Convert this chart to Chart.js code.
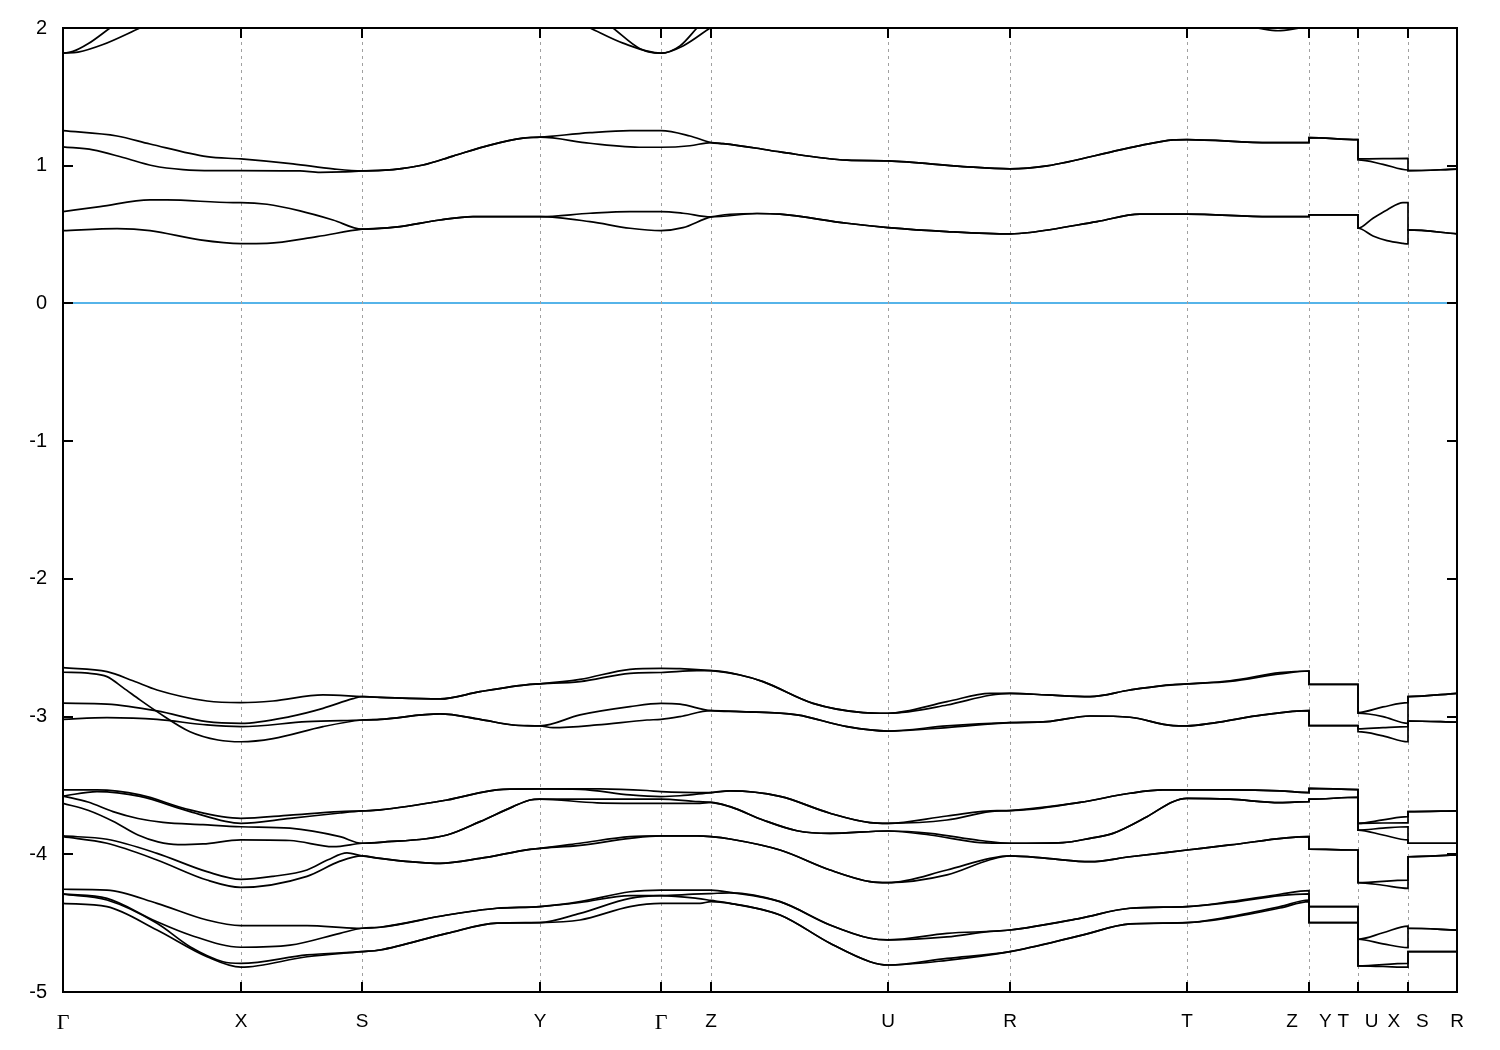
<!DOCTYPE html>
<html>
<head>
<meta charset="utf-8">
<title>Band structure</title>
<script src="https://cdn.jsdelivr.net/npm/chart.js@4.4.1/dist/chart.umd.min.js"></script>
<style>
  html, body { margin: 0; padding: 0; background: #fff; }
</style>
</head>
<body>
<canvas id="bands" width="1500" height="1050"></canvas>
<script>
'use strict';

// ── k-path (distance along the path) ─────────────────────────────
const K_TICKS  = [0, 178, 299, 477, 598, 648, 825, 947, 1124, 1246, 1295, 1345, 1394];
const K_LABELS = ['Γ', 'X', 'S', 'Y', 'Γ', 'Z', 'U', 'R', 'T', 'Z    Y', 'T   U', 'X   S', 'R'];

const E_MIN = -5;
const E_MAX = 2;

// ── bands: [k, E] pairs; a repeated k is a jump ──
// conduction bands running out of the top of the window
const CB_TOP1 = [[0, 1.817], [10, 1.83], [25, 1.885], [47, 2.0]];
const CB_TOP2 = [[0, 1.817], [15, 1.825], [40, 1.88], [77, 2.0]];
const CB_TOP3 = [[527, 2.0], [560, 1.89], [598, 1.817], [620, 1.87], [647, 2.0]];
const CB_TOP4 = [[550, 2.0], [577, 1.85], [598, 1.817], [617, 1.87], [634, 2.0]];
const CB_TOP5 = [[1194, 2.0], [1215, 1.98], [1237, 2.0]];

// conduction pair near 1 eV
const CB_1 = [[0, 1.255], [54, 1.216], [87, 1.158], [144, 1.066], [178, 1.049], [230, 1.013], [270, 0.977], [299, 0.962],
  [330, 0.972], [360, 1.005], [390, 1.07], [427, 1.15], [460, 1.2], [477, 1.207],
  [527, 1.24], [567, 1.255], [598, 1.255], [627, 1.216], [648, 1.168],
  [660, 1.16], [694, 1.127], [717, 1.1], [784, 1.04], [825, 1.035], [900, 0.994], [947, 0.977], [984, 0.999],
  [1057, 1.115], [1077, 1.146], [1110, 1.187], [1124, 1.19], [1207, 1.168], [1246, 1.168],
  [1246, 1.204], [1295, 1.19], [1295, 1.05], [1345, 1.054], [1345, 0.964], [1394, 0.975]];
const CB_2 = [[0, 1.137], [30, 1.115], [60, 1.06], [90, 1.0], [120, 0.972], [150, 0.965], [178, 0.965], [237, 0.962], [257, 0.952], [280, 0.955], [299, 0.962],
  [330, 0.972], [360, 1.005], [390, 1.07], [427, 1.15], [460, 1.2], [477, 1.207],
  [527, 1.163], [580, 1.134], [598, 1.134], [627, 1.145], [648, 1.168],
  [660, 1.16], [694, 1.127], [717, 1.1], [784, 1.04], [825, 1.035], [900, 0.994], [947, 0.977], [984, 0.999],
  [1057, 1.115], [1077, 1.146], [1110, 1.187], [1124, 1.19], [1207, 1.168], [1246, 1.168],
  [1246, 1.204], [1295, 1.19], [1295, 1.042], [1320, 1.01], [1345, 0.969], [1345, 0.964], [1394, 0.975]];

// conduction pair near 0.6 eV
const CB_3 = [[0, 0.667], [37, 0.703], [87, 0.752], [104, 0.752], [170, 0.732], [178, 0.732], [204, 0.72], [237, 0.672], [270, 0.606], [299, 0.539],
  [327, 0.55], [337, 0.558], [377, 0.606], [410, 0.63], [477, 0.63],
  [527, 0.655], [567, 0.667], [598, 0.667], [620, 0.655], [648, 0.628],
  [694, 0.653], [717, 0.648], [784, 0.582], [825, 0.551], [884, 0.522], [947, 0.505], [967, 0.515], [1034, 0.594], [1077, 0.648],
  [1124, 0.648], [1207, 0.63], [1246, 0.63],
  [1246, 0.643], [1295, 0.643], [1295, 0.546], [1310, 0.619], [1324, 0.679], [1340, 0.732], [1345, 0.732], [1345, 0.534], [1394, 0.505]];
const CB_4 = [[0, 0.529], [54, 0.543], [87, 0.529], [137, 0.461], [178, 0.434], [204, 0.436], [254, 0.485], [299, 0.539],
  [327, 0.55], [337, 0.558], [377, 0.606], [410, 0.63], [477, 0.63],
  [527, 0.594], [567, 0.546], [598, 0.529], [620, 0.55], [648, 0.628],
  [694, 0.653], [717, 0.648], [784, 0.582], [825, 0.551], [884, 0.522], [947, 0.505], [967, 0.515], [1034, 0.594], [1077, 0.648],
  [1124, 0.648], [1207, 0.63], [1246, 0.63],
  [1246, 0.643], [1295, 0.643], [1295, 0.546], [1310, 0.49], [1324, 0.456], [1340, 0.436], [1345, 0.432], [1345, 0.534], [1394, 0.505]];

// valence group near -2.9 eV
const VB_1 = [[0, -2.645], [44, -2.674], [70, -2.74], [94, -2.807], [144, -2.887], [178, -2.899], [210, -2.887], [260, -2.843], [299, -2.855],
  [317, -2.86], [377, -2.872], [417, -2.819], [467, -2.766], [477, -2.762],
  [517, -2.73], [567, -2.657], [598, -2.65], [617, -2.652], [648, -2.667],
  [677, -2.698], [700, -2.746], [750, -2.904], [800, -2.971], [825, -2.976], [884, -2.892], [927, -2.831], [947, -2.831],
  [984, -2.843], [1027, -2.855], [1067, -2.807], [1100, -2.775], [1124, -2.763], [1167, -2.74], [1217, -2.681], [1246, -2.669],
  [1246, -2.766], [1295, -2.766], [1295, -2.971], [1320, -2.93], [1345, -2.899], [1345, -2.855], [1394, -2.831]];
const VB_2 = [[0, -2.678], [25, -2.685], [44, -2.71], [60, -2.79], [77, -2.879], [94, -2.964], [127, -3.11], [155, -3.17], [178, -3.183], [210, -3.16], [260, -3.073], [299, -3.025],
  [317, -3.02], [377, -2.981], [417, -3.02], [450, -3.061], [477, -3.068],
  [490, -3.08], [534, -3.061], [584, -3.025], [598, -3.02], [617, -3.0], [648, -2.957],
  [677, -2.964], [734, -2.988], [784, -3.073], [825, -3.105], [884, -3.068], [947, -3.044], [984, -3.037],
  [1027, -2.996], [1067, -3.005], [1110, -3.066], [1124, -3.068], [1150, -3.047], [1200, -2.988], [1246, -2.957],
  [1246, -3.066], [1295, -3.066], [1295, -3.11], [1320, -3.14], [1345, -3.183], [1345, -3.032], [1394, -3.041]];
const VB_3 = [[0, -2.903], [44, -2.91], [94, -2.959], [144, -3.037], [178, -3.049], [227, -3.0], [260, -2.94], [290, -2.87], [299, -2.855],
  [317, -2.86], [377, -2.872], [417, -2.819], [467, -2.766], [477, -2.762],
  [517, -2.746], [567, -2.686], [598, -2.68], [634, -2.667], [648, -2.667],
  [677, -2.698], [700, -2.746], [750, -2.904], [800, -2.971], [825, -2.976], [884, -2.916], [927, -2.845], [947, -2.831],
  [984, -2.843], [1027, -2.855], [1067, -2.807], [1100, -2.775], [1124, -2.763], [1167, -2.745], [1217, -2.69], [1246, -2.669],
  [1246, -2.766], [1295, -2.766], [1295, -2.976], [1320, -3.0], [1345, -3.049], [1345, -2.855], [1394, -2.831]];
const VB_4 = [[0, -3.02], [44, -3.008], [94, -3.02], [144, -3.061], [178, -3.073], [244, -3.037], [299, -3.025],
  [317, -3.02], [377, -2.981], [417, -3.02], [450, -3.061], [477, -3.068],
  [517, -2.988], [567, -2.928], [598, -2.904], [617, -2.91], [648, -2.957],
  [677, -2.964], [734, -2.988], [784, -3.073], [825, -3.105], [884, -3.08], [947, -3.044], [984, -3.037],
  [1027, -2.996], [1067, -3.005], [1110, -3.066], [1124, -3.068], [1150, -3.047], [1200, -2.988], [1246, -2.957],
  [1246, -3.066], [1295, -3.066], [1295, -3.09], [1320, -3.08], [1345, -3.073], [1345, -3.032], [1394, -3.041]];

// valence group near -3.8 eV
const VB_5 = [[0, -3.533], [34, -3.533], [77, -3.569], [127, -3.678], [178, -3.739], [227, -3.715], [277, -3.69], [299, -3.685],
  [317, -3.678], [384, -3.606], [440, -3.528], [477, -3.525],
  [537, -3.525], [584, -3.537], [598, -3.545], [648, -3.552],
  [667, -3.54], [717, -3.58], [767, -3.702], [807, -3.77], [825, -3.775], [884, -3.722], [934, -3.683], [947, -3.683],
  [1017, -3.623], [1067, -3.557], [1100, -3.533], [1124, -3.533], [1167, -3.533], [1217, -3.54], [1246, -3.552],
  [1246, -3.521], [1295, -3.53], [1295, -3.775], [1320, -3.75], [1345, -3.727], [1345, -3.69], [1394, -3.685]];
const VB_6 = [[0, -3.577], [34, -3.545], [77, -3.58], [127, -3.69], [178, -3.775], [227, -3.739], [277, -3.7], [299, -3.685],
  [317, -3.678], [384, -3.606], [440, -3.528], [477, -3.525],
  [517, -3.528], [567, -3.569], [598, -3.581], [617, -3.575], [648, -3.552],
  [667, -3.54], [717, -3.58], [767, -3.702], [807, -3.77], [825, -3.775], [884, -3.751], [927, -3.69], [947, -3.683],
  [1017, -3.623], [1067, -3.557], [1100, -3.533], [1124, -3.533], [1167, -3.533], [1217, -3.54], [1246, -3.552],
  [1246, -3.521], [1295, -3.53], [1295, -3.775], [1320, -3.773], [1345, -3.772], [1345, -3.69], [1394, -3.685]];
const VB_7 = [[0, -3.577], [25, -3.62], [50, -3.69], [75, -3.74], [100, -3.768], [140, -3.785], [178, -3.8], [227, -3.81], [277, -3.872], [299, -3.92],
  [317, -3.913], [384, -3.86], [417, -3.763], [450, -3.654], [467, -3.606], [477, -3.6],
  [537, -3.6], [598, -3.6], [630, -3.615], [648, -3.623],
  [667, -3.654], [700, -3.751], [734, -3.829], [767, -3.848], [825, -3.831], [867, -3.848], [917, -3.9], [947, -3.92],
  [1000, -3.915], [1027, -3.884], [1050, -3.848], [1084, -3.727], [1110, -3.618], [1124, -3.594], [1167, -3.6], [1217, -3.625], [1246, -3.618],
  [1246, -3.6], [1295, -3.586], [1295, -3.824], [1320, -3.81], [1345, -3.8], [1345, -3.92], [1394, -3.92]];
const VB_8 = [[0, -3.63], [25, -3.68], [50, -3.76], [75, -3.86], [95, -3.91], [115, -3.93], [140, -3.925], [178, -3.896], [227, -3.9], [270, -3.945], [299, -3.92],
  [317, -3.913], [384, -3.86], [417, -3.763], [450, -3.654], [467, -3.606], [477, -3.6],
  [534, -3.626], [598, -3.63], [637, -3.63], [648, -3.623],
  [667, -3.654], [700, -3.751], [734, -3.829], [767, -3.848], [825, -3.831], [867, -3.86], [917, -3.915], [947, -3.92],
  [1000, -3.915], [1027, -3.884], [1050, -3.848], [1084, -3.727], [1110, -3.618], [1124, -3.594], [1167, -3.6], [1217, -3.625], [1246, -3.618],
  [1246, -3.6], [1295, -3.586], [1295, -3.824], [1320, -3.86], [1345, -3.896], [1345, -3.92], [1394, -3.92]];
const VB_9 = [[0, -3.867], [44, -3.891], [94, -3.993], [144, -4.126], [178, -4.182], [210, -4.16], [244, -4.114], [265, -4.04], [284, -3.99], [299, -4.012],
  [317, -4.03], [377, -4.066], [417, -4.03], [467, -3.964], [477, -3.957],
  [517, -3.92], [567, -3.872], [598, -3.867], [634, -3.867], [648, -3.872],
  [667, -3.889], [717, -3.969], [767, -4.114], [807, -4.199], [825, -4.206], [884, -4.114], [927, -4.03], [947, -4.012],
  [984, -4.03], [1027, -4.054], [1067, -4.018], [1124, -3.969], [1167, -3.932], [1246, -3.872],
  [1246, -3.962], [1295, -3.969], [1295, -4.206], [1345, -4.187], [1345, -4.018], [1394, -4.005]];
const VB_10 = [[0, -3.872], [44, -3.92], [94, -4.041], [144, -4.187], [178, -4.24], [244, -4.16], [277, -4.05], [299, -4.012],
  [317, -4.03], [377, -4.066], [417, -4.03], [467, -3.964], [477, -3.957],
  [517, -3.935], [567, -3.885], [598, -3.867], [634, -3.867], [648, -3.872],
  [667, -3.889], [717, -3.969], [767, -4.114], [807, -4.199], [825, -4.206], [884, -4.15], [927, -4.04], [947, -4.012],
  [984, -4.03], [1027, -4.054], [1067, -4.018], [1124, -3.969], [1167, -3.932], [1246, -3.872],
  [1246, -3.962], [1295, -3.969], [1295, -4.206], [1320, -4.225], [1345, -4.247], [1345, -4.018], [1394, -4.005]];

// valence group near -4.5 eV
const VB_11 = [[0, -4.254], [44, -4.26], [94, -4.356], [144, -4.477], [178, -4.518], [244, -4.518], [294, -4.537], [299, -4.537],
  [317, -4.53], [384, -4.441], [434, -4.392], [477, -4.38],
  [517, -4.344], [567, -4.272], [598, -4.26], [648, -4.26],
  [667, -4.276], [717, -4.344], [767, -4.513], [807, -4.61], [825, -4.622], [884, -4.574], [947, -4.55],
  [1017, -4.465], [1067, -4.392], [1124, -4.38], [1167, -4.344], [1217, -4.29], [1246, -4.264],
  [1246, -4.38], [1295, -4.38], [1295, -4.617], [1320, -4.57], [1345, -4.521], [1345, -4.537], [1394, -4.55]];
const VB_12 = [[0, -4.288], [44, -4.32], [94, -4.49], [127, -4.586], [178, -4.675], [227, -4.66], [277, -4.574], [299, -4.537],
  [317, -4.53], [384, -4.441], [434, -4.392], [477, -4.38],
  [517, -4.35], [567, -4.3], [598, -4.3], [630, -4.29], [648, -4.285],
  [667, -4.28], [717, -4.344], [767, -4.513], [807, -4.61], [825, -4.622], [884, -4.6], [927, -4.56], [947, -4.55],
  [1017, -4.465], [1067, -4.392], [1124, -4.38], [1167, -4.35], [1217, -4.3], [1246, -4.288],
  [1246, -4.38], [1295, -4.38], [1295, -4.617], [1320, -4.65], [1345, -4.678], [1345, -4.537], [1394, -4.55]];
const VB_13 = [[0, -4.29], [44, -4.332], [94, -4.501], [127, -4.671], [160, -4.78], [178, -4.792], [244, -4.731], [299, -4.707],
  [317, -4.695], [384, -4.574], [434, -4.5], [477, -4.496],
  [517, -4.429], [567, -4.32], [598, -4.3], [634, -4.32], [648, -4.335],
  [667, -4.356], [717, -4.441], [767, -4.646], [807, -4.78], [825, -4.804], [884, -4.756], [947, -4.707],
  [1017, -4.591], [1067, -4.506], [1124, -4.496], [1167, -4.453], [1217, -4.38], [1246, -4.332],
  [1246, -4.496], [1295, -4.496], [1295, -4.811], [1345, -4.792], [1345, -4.707], [1394, -4.707]];
const VB_14 = [[0, -4.356], [44, -4.38], [94, -4.55], [144, -4.744], [178, -4.82], [244, -4.744], [299, -4.707],
  [317, -4.695], [384, -4.574], [434, -4.5], [477, -4.496],
  [517, -4.477], [567, -4.38], [598, -4.356], [637, -4.356], [648, -4.344],
  [667, -4.356], [717, -4.441], [767, -4.646], [807, -4.78], [825, -4.804], [884, -4.77], [947, -4.707],
  [1017, -4.591], [1067, -4.506], [1124, -4.496], [1167, -4.46], [1217, -4.39], [1246, -4.344],
  [1246, -4.496], [1295, -4.496], [1295, -4.811], [1320, -4.815], [1345, -4.82], [1345, -4.707], [1394, -4.707]];

const BANDS = [
  CB_TOP1, CB_TOP2, CB_TOP3, CB_TOP4, CB_TOP5, CB_1, CB_2, CB_3, CB_4,
  VB_1, VB_2, VB_3, VB_4, VB_5, VB_6, VB_7, VB_8, VB_9, VB_10, VB_11, VB_12, VB_13, VB_14,
];

// ── frame, inward tick marks and dotted k-point lines (gnuplot look) ──
const gnuplotFrame = {
  id: 'gnuplotFrame',
  beforeDatasetsDraw(chart) {
    const { ctx, chartArea: a, scales: { x } } = chart;
    ctx.save();
    ctx.strokeStyle = '#a0a0a0';
    ctx.lineWidth = 1;
    ctx.setLineDash([3, 4]);
    ctx.beginPath();
    K_TICKS.slice(1, -1).forEach(k => {
      const px = Math.round(x.getPixelForValue(k)) + 0.5;
      ctx.moveTo(px, a.top);
      ctx.lineTo(px, a.bottom);
    });
    ctx.stroke();
    ctx.restore();
  },
  afterDatasetsDraw(chart) {
    const { ctx, chartArea: a, scales: { x, y } } = chart;
    ctx.save();
    ctx.strokeStyle = '#000';
    ctx.lineWidth = 2;
    ctx.beginPath();
    K_TICKS.forEach(k => {
      const px = Math.round(x.getPixelForValue(k));
      ctx.moveTo(px, a.bottom);
      ctx.lineTo(px, a.bottom - 10);
      ctx.moveTo(px, a.top);
      ctx.lineTo(px, a.top + 10);
    });
    for (let e = E_MIN; e <= E_MAX; e++) {
      const py = Math.round(y.getPixelForValue(e));
      ctx.moveTo(a.left, py);
      ctx.lineTo(a.left + 10, py);
      ctx.moveTo(a.right, py);
      ctx.lineTo(a.right - 10, py);
    }
    ctx.stroke();
    ctx.strokeRect(a.left, a.top, a.right - a.left, a.bottom - a.top);
    ctx.restore();
  },
};

const SANS_X = { family: 'Liberation Sans', size: 19 };
const SANS_Y = { family: 'Liberation Sans', size: 20 };
const SERIF  = { family: 'Liberation Serif', size: 22 };

new Chart(document.getElementById('bands'), {
  type: 'line',
  data: {
    datasets: BANDS.map(band => ({
      data: band.map(([k, e]) => ({ x: k, y: e })),
      borderColor: '#000',
      borderWidth: 1.7,
      pointRadius: 0,
      fill: false,
      cubicInterpolationMode: 'monotone',
    })),
  },
  options: {
    responsive: false,
    animation: false,
    events: [],
    layout: { padding: { top: 28, right: 43, left: 0, bottom: 0 } },
    plugins: {
      legend: { display: false },
      tooltip: { enabled: false },
    },
    scales: {
      x: {
        type: 'linear',
        min: 0,
        max: K_TICKS[K_TICKS.length - 1],
        afterBuildTicks(scale) {
          scale.ticks = K_TICKS.map(value => ({ value }));
        },
        afterFit(scale) { scale.height = 58; },
        grid: { display: false },
        border: { display: false },
        ticks: {
          autoSkip: false,
          maxRotation: 0,
          padding: 10,
          color: '#000',
          font: ctx => (K_LABELS[ctx.index] === 'Γ' ? SERIF : SANS_X),
          callback: (value, index) => K_LABELS[index],
        },
      },
      y: {
        min: E_MIN,
        max: E_MAX,
        afterFit(scale) { scale.width = 63; },
        grid: {
          drawTicks: false,
          color: ctx => (ctx.tick && ctx.tick.value === 0 ? '#56b4e9' : 'rgba(0,0,0,0)'),
          lineWidth: 2,
        },
        border: { display: false },
        ticks: {
          stepSize: 1,
          padding: 16,
          color: '#000',
          font: SANS_Y,
          callback: value => String(value),
        },
      },
    },
  },
  plugins: [gnuplotFrame],
});
</script>
</body>
</html>
